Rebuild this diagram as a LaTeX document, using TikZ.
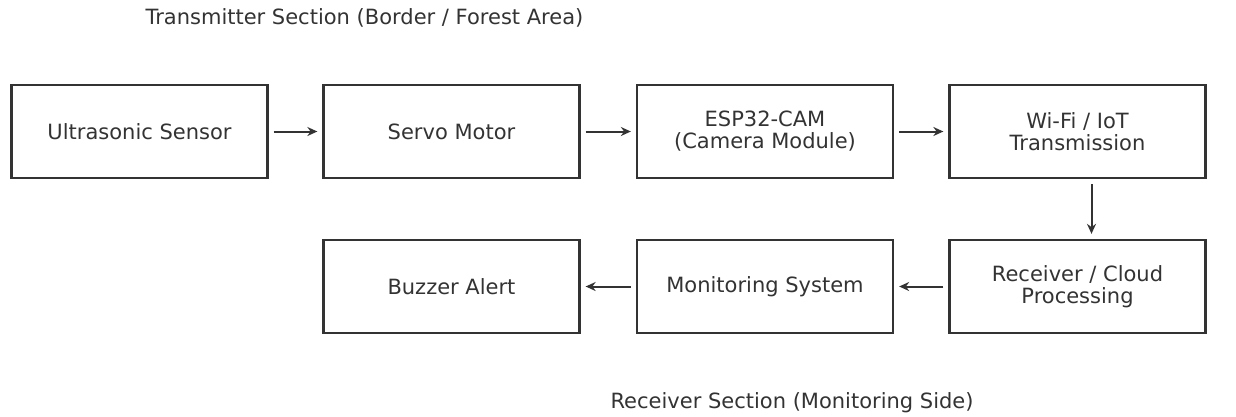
\documentclass[tikz,border=0pt]{standalone}
\usepackage{fontspec}
\setmainfont{DejaVu Sans}
\usetikzlibrary{arrows.meta}
\definecolor{ink}{HTML}{333333}
\begin{document}
\begin{tikzpicture}[x=1pt,y=-1pt,
  blk/.style={draw=ink,line width=2.3pt,minimum width=256pt,minimum height=93pt,inner sep=0pt,align=center,font=\fontsize{21}{22}\selectfont,text=ink},
  conn/.style={draw=ink,line width=2pt,-{Stealth[length=10pt,width=9pt]},shorten <=5pt,shorten >=5pt},
  ttl/.style={anchor=west,font=\fontsize{21}{24}\selectfont,text=ink}]
\useasboundingbox (0,0) rectangle (1236,416);
\node[ttl] (t1) at (142,18) {Transmitter Section (Border / Forest Area)};
\node[ttl] (t2) at (607,403) {Receiver Section (Monitoring Side)};
\node[blk] (us) at (139.5,131.5) {Ultrasonic Sensor};
\node[blk] (sm) at (451.5,131.5) {Servo Motor};
\node[blk] (esp) at (765,131.5) {ESP32-CAM\\(Camera Module)};
\node[blk] (wifi) at (1077.5,131.5) {Wi-Fi / IoT\\Transmission};
\node[blk] (bz) at (451.5,286.5) {Buzzer Alert};
\node[blk] (ms) at (765,286.5) {Monitoring System};
\node[blk] (rc) at (1077.5,286.5) {Receiver / Cloud\\Processing};
\draw[conn] (us) -- (sm);
\draw[conn] (sm) -- (esp);
\draw[conn] (esp) -- (wifi);
\draw[conn] ([xshift=14pt]wifi.south) -- ([xshift=14pt]rc.north);
\draw[conn] (rc) -- (ms);
\draw[conn] (ms) -- (bz);
\end{tikzpicture}
\end{document}
